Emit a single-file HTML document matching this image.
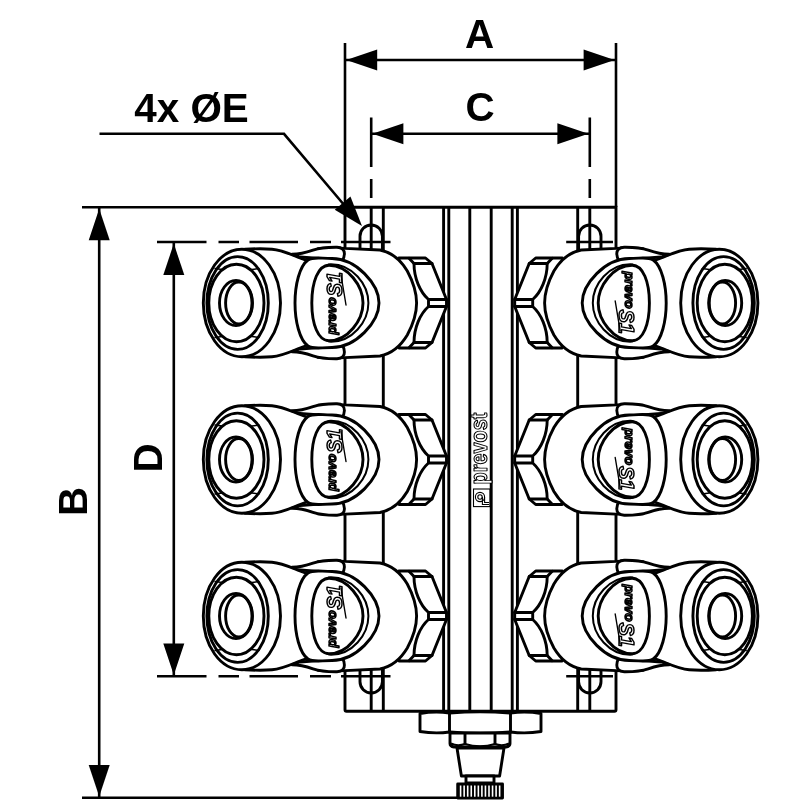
<!DOCTYPE html>
<html><head><meta charset="utf-8"><title>Drawing</title>
<style>
html,body{margin:0;padding:0;background:#fff;}
body{width:800px;height:800px;overflow:hidden;}
svg{display:block;filter:grayscale(1);}
text{font-family:"Liberation Sans",sans-serif;}
.lbl{font-weight:bold;font-size:40.4px;fill:#000;stroke:none;}
</style></head><body>
<svg width="800" height="800" viewBox="0 0 800 800">
<rect width="800" height="800" fill="#fff"/>

<g fill="none" stroke="#000" stroke-width="2.6" stroke-linecap="butt">
<path d="M345,43 V207 M616,43 V207 M82,207.3 H345 M82,797.7 H457"/>
</g>
<g fill="none" stroke="#000" stroke-width="2.9" stroke-linecap="butt">
<path d="M345,207.3 V709.700 Q345,711.2 346.500,711.2 H614.5 Q616,711.2 616,709.700 V207.3 Z"/>
<path d="M383.3,207.3 V711.2 M577.7,207.3 V711.2"/>
<path d="M443.6,207.3 V711.2 M448.8,207.3 V711.2 M469.8,207.3 V711.2 M491.2,207.3 V711.2 M512.2,207.3 V711.2 M517.4,207.3 V711.2"/>
<path d="M360,250 V236.2 A11.2,11.2 0 0 1 382.4,236.2 V250"/>
<path d="M371.2,207 V250"/>
<path d="M578.6,250 V236.2 A11.2,11.2 0 0 1 601,236.2 V250"/>
<path d="M589.8,207 V250"/>
<path d="M360,668 V681.8 A11.2,11.2 0 0 0 382.4,681.8 V668"/>
<path d="M371.2,668 V711"/>
<path d="M578.6,668 V681.8 A11.2,11.2 0 0 0 601,681.8 V668"/>
<path d="M589.8,668 V711"/>
</g>
<g fill="none" stroke="#000" stroke-width="2.6" stroke-linecap="butt">
<path d="M371.2,117.500 V167 M371.2,179 V198 M589.8,117.5 V167 M589.8,179 V198"/>
<path d="M157,242 H206.5 M218.5,242 H239 M249.5,242 H298 M310,242 H331 M341,242 H390.5"/>
<path d="M566.2,242 H613"/>
<path d="M157,676.2 H206.5 M218.5,676.2 H239 M249.5,676.2 H298 M310,676.2 H331 M341,676.2 H390.5"/>
<path d="M566.2,676.2 H613"/>
<path d="M345,60 H616 M371.2,133.800 H589.8 M99.2,207 V797.5 M173.8,242 V676"/>
<path d="M99.500,133.800 H284 L345,206"/>
</g>
<path d="M0,0 L-31,-10.5 L-31,10.5 Z" transform="translate(346.2,60) rotate(180)" fill="#000" stroke="none"/>
<path d="M0,0 L-31,-10.5 L-31,10.5 Z" transform="translate(614.6,60) rotate(0)" fill="#000" stroke="none"/>
<path d="M0,0 L-31,-10.5 L-31,10.5 Z" transform="translate(372.4,133.8) rotate(180)" fill="#000" stroke="none"/>
<path d="M0,0 L-31,-10.5 L-31,10.5 Z" transform="translate(588.4,133.8) rotate(0)" fill="#000" stroke="none"/>
<path d="M0,0 L-31.5,-10.5 L-31.5,10.5 Z" transform="translate(99.2,208.8) rotate(-90)" fill="#000" stroke="none"/>
<path d="M0,0 L-31.5,-10.5 L-31.5,10.5 Z" transform="translate(99.2,796.6) rotate(90)" fill="#000" stroke="none"/>
<path d="M0,0 L-31.5,-10.5 L-31.5,10.5 Z" transform="translate(173.8,243.6) rotate(-90)" fill="#000" stroke="none"/>
<path d="M0,0 L-31.5,-10.5 L-31.5,10.5 Z" transform="translate(173.8,675) rotate(90)" fill="#000" stroke="none"/>
<path d="M0,0 L-30,-10.3 L-30,10.3 Z" transform="translate(362,226) rotate(49.7)" fill="#000" stroke="none"/>
<text class="lbl" x="479.500" y="47.700" text-anchor="middle">A</text>
<text class="lbl" x="480" y="120.600" text-anchor="middle">C</text>
<text class="lbl" x="191.500" y="121.700" text-anchor="middle">4x ØE</text>
<text class="lbl" transform="translate(86.8,501.500) rotate(-90)" text-anchor="middle">B</text>
<text class="lbl" transform="translate(161.800,458) rotate(-90)" text-anchor="middle">D</text>
<g transform="translate(486.6,484.500) rotate(-90)"><text x="0" y="0" font-size="23" font-weight="bold" fill="#fff" stroke="#000" stroke-width="1.1" stroke-linejoin="round" textLength="72" lengthAdjust="spacingAndGlyphs">prevost</text></g>
<g fill="none" stroke="#000" stroke-width="1.1"><rect x="473.500" y="489" width="16.5" height="17.6"/><circle cx="480" cy="497" r="4.6"/><circle cx="480" cy="497" r="2.2"/><path d="M484.6,497 V502.500 H489 M482.400,497 V504.500 H489"/></g>
<g fill="#fff" stroke="#000" stroke-width="2.9" stroke-linejoin="round">
<path d="M420,713.500 Q435,711 449.500,713 Q480,710.500 510.500,713 Q526,711 541,713.500 V731.500 Q526,734 510.5,732 Q480,734.500 449.5,732 Q435,734 420,731.500 Z"/>
<path d="M449.5,712 V733 M510.5,712 V733"/>
<path d="M450,733 H510 V743.500 Q510,746.500 506,747 H454 Q450,746.500 450,743.500 Z"/>
<path d="M451,743.500 Q457.500,746.500 465,744 Q480,748.500 495,744 Q502.500,746.500 509,743.500" fill="none" stroke-width="2"/>
<path d="M465,733 V744 M495,733 V744"/>
<path d="M457,748 H504 L499.600,776 H461.400 Z"/>
<path d="M466,776 H494 V783 H466 Z"/>
<rect x="457.7" y="784" width="44.800" height="14" fill="#000"/>
</g>
<g stroke="#fff" stroke-width="1.6">
<path d="M460.60,785.500 V796.700"/>
<path d="M464.15,785.500 V796.700"/>
<path d="M467.70,785.500 V796.700"/>
<path d="M471.25,785.500 V796.700"/>
<path d="M474.80,785.500 V796.700"/>
<path d="M478.35,785.500 V796.700"/>
<path d="M481.90,785.500 V796.700"/>
<path d="M485.45,785.500 V796.700"/>
<path d="M489.00,785.500 V796.700"/>
<path d="M492.55,785.500 V796.700"/>
<path d="M496.10,785.500 V796.700"/>
<path d="M499.65,785.500 V796.700"/>
</g>
<g transform="translate(0,0.0)" stroke="#000" stroke-width="2.9" stroke-linejoin="round" stroke-linecap="round">
<path d="M300,256 C310,250 325,247.6 345,248.4 L380,250 C390,252 399.5,258 407.3,271 C413.2,282 416.6,294 416.6,303 C416.6,312 413.2,324 407.3,335 C399.5,348 390,354 380,356 L345,357.6 C325,358.4 310,356 300,350 Z" fill="#fff" stroke="none"/>
<path d="M399,258 L425.5,258 L432,263.5 L446.5,299.5 L446.5,306.5 L432,342.5 L425.5,348 L399,348 Z" fill="#fff"/>
<path d="M409,258.3 L414,263.5 L432,263.5 M409,347.7 L414,342.5 L432,342.5" fill="none"/>
<path d="M414,263.5 C414,278 420,292 428.5,299.5 L446.5,299.5 M414,342.5 C414,328 420,314 428.5,306.5 L446.5,306.5 M428.5,299.5 L428.5,306.5" fill="none"/>
<path d="M318,248.6 C330,247.6 340,248 345,248.4 L380,250 C390,252 399.5,258 407.3,271 C413.2,282 416.6,294 416.6,303 C416.6,312 413.2,324 407.3,335 C399.5,348 390,354 380,356 L345,357.6 C340,358 330,358.4 318,357.4" fill="#fff"/>
<path d="M245,249.3 C255,248.6 265,248.6 272,249.2 C282,250 290,254 300,258 L310,262 L310,344 L300,348 C290,352 282,356 272,356.8 C265,357.4 255,357.4 245,356.7 Z" fill="#fff" stroke="none"/>
<path d="M245,249.3 C255,248.6 265,248.6 272,249.2 C282,250 290,254 300,258 L308,261 M245,356.7 C255,357.4 265,357.4 272,356.8 C282,356 290,352 300,348 L308,345" fill="none"/>
<ellipse cx="241.9" cy="303" rx="38.6" ry="53.7" fill="#fff"/>
<ellipse cx="237.6" cy="303" rx="30.7" ry="46.4" fill="none"/>
<ellipse cx="236.4" cy="303" rx="27.6" ry="38.8" fill="none"/>
<ellipse cx="236" cy="303" rx="16.5" ry="22.6" fill="none"/>
<ellipse cx="238.8" cy="303" rx="13.2" ry="21" fill="none"/>
<path d="M215,268.5 L222,269.5 M252,269.5 L259,268.5 M215,337.5 L222,336.5 M252,336.5 L259,337.5" fill="none" stroke-width="1.4"/>
<path d="M292,254.3 C300,254.3 307,252.3 313,250.2 C320,247.8 328,247.2 337,247.3 C342,247.4 344.6,250.0 344.4,254.0 C344.2,257.0 343.5,259.0 342.5,260.3 L300,257.0 Z" fill="#fff"/>
<path d="M292,351.7 C300,351.7 307,353.7 313,355.8 C320,358.2 328,358.8 337,358.7 C342,358.6 344.6,356.0 344.4,352.0 C344.2,349.0 343.5,347.0 342.5,345.7 L300,349.0 Z" fill="#fff"/>
<path d="M379,303 C379,284 356,258.5 332,258.5 C320,258.5 313,256.5 308,260 C299.5,266 295,285 295,303 C295,321 299.5,340 308,346 C313,349.5 320,347.5 332,347.5 C356,347.5 379,322 379,303 Z" fill="#fff"/>
<path d="M326,265.6 C328,264.6 329,264.3 331,264.3 C352,264.3 368.4,284 368.4,303 C368.4,322 352,341.700 331,341.700 C329,341.700 328,341.400 326,340.400" fill="#fff" stroke-width="2"/>
<path d="M363,303 C363,286 348,265.2 329,265.2 C318,265.2 311.8,282 311.8,303 C311.8,324 318,340.8 329,340.8 C348,340.8 363,320 363,303 Z" fill="#fff"/>
<g transform="translate(336.3,334.5) rotate(-90)" font-family="Liberation Sans, sans-serif" font-weight="bold" font-style="italic" fill="#fff" stroke="#000" stroke-width="1.5" stroke-linejoin="round"><text x="0" y="0" font-size="13" textLength="37" lengthAdjust="spacingAndGlyphs">prevo</text><text x="38" y="5.5" font-size="22" textLength="24.500" lengthAdjust="spacingAndGlyphs">S1</text><path d="M29.5,9.7 L59.5,4.7" fill="none" stroke-width="1.4"/></g>
</g>
<g transform="translate(0,0.0) rotate(180 480.6 303)" stroke="#000" stroke-width="2.9" stroke-linejoin="round" stroke-linecap="round">
<path d="M300,256 C310,250 325,247.6 345,248.4 L380,250 C390,252 399.5,258 407.3,271 C413.2,282 416.6,294 416.6,303 C416.6,312 413.2,324 407.3,335 C399.5,348 390,354 380,356 L345,357.6 C325,358.4 310,356 300,350 Z" fill="#fff" stroke="none"/>
<path d="M399,258 L425.5,258 L432,263.5 L446.5,299.5 L446.5,306.5 L432,342.5 L425.5,348 L399,348 Z" fill="#fff"/>
<path d="M409,258.3 L414,263.5 L432,263.5 M409,347.7 L414,342.5 L432,342.5" fill="none"/>
<path d="M414,263.5 C414,278 420,292 428.5,299.5 L446.5,299.5 M414,342.5 C414,328 420,314 428.5,306.5 L446.5,306.5 M428.5,299.5 L428.5,306.5" fill="none"/>
<path d="M318,248.6 C330,247.6 340,248 345,248.4 L380,250 C390,252 399.5,258 407.3,271 C413.2,282 416.6,294 416.6,303 C416.6,312 413.2,324 407.3,335 C399.5,348 390,354 380,356 L345,357.6 C340,358 330,358.4 318,357.4" fill="#fff"/>
<path d="M245,249.3 C255,248.6 265,248.6 272,249.2 C282,250 290,254 300,258 L310,262 L310,344 L300,348 C290,352 282,356 272,356.8 C265,357.4 255,357.4 245,356.7 Z" fill="#fff" stroke="none"/>
<path d="M245,249.3 C255,248.6 265,248.6 272,249.2 C282,250 290,254 300,258 L308,261 M245,356.7 C255,357.4 265,357.4 272,356.8 C282,356 290,352 300,348 L308,345" fill="none"/>
<ellipse cx="241.9" cy="303" rx="38.6" ry="53.7" fill="#fff"/>
<ellipse cx="237.6" cy="303" rx="30.7" ry="46.4" fill="none"/>
<ellipse cx="236.4" cy="303" rx="27.6" ry="38.8" fill="none"/>
<ellipse cx="236" cy="303" rx="16.5" ry="22.6" fill="none"/>
<ellipse cx="238.8" cy="303" rx="13.2" ry="21" fill="none"/>
<path d="M215,268.5 L222,269.5 M252,269.5 L259,268.5 M215,337.5 L222,336.5 M252,336.5 L259,337.5" fill="none" stroke-width="1.4"/>
<path d="M292,254.3 C300,254.3 307,252.3 313,250.2 C320,247.8 328,247.2 337,247.3 C342,247.4 344.6,250.0 344.4,254.0 C344.2,257.0 343.5,259.0 342.5,260.3 L300,257.0 Z" fill="#fff"/>
<path d="M292,351.7 C300,351.7 307,353.7 313,355.8 C320,358.2 328,358.8 337,358.7 C342,358.6 344.6,356.0 344.4,352.0 C344.2,349.0 343.5,347.0 342.5,345.7 L300,349.0 Z" fill="#fff"/>
<path d="M379,303 C379,284 356,258.5 332,258.5 C320,258.5 313,256.5 308,260 C299.5,266 295,285 295,303 C295,321 299.5,340 308,346 C313,349.5 320,347.5 332,347.5 C356,347.5 379,322 379,303 Z" fill="#fff"/>
<path d="M326,265.6 C328,264.6 329,264.3 331,264.3 C352,264.3 368.4,284 368.4,303 C368.4,322 352,341.700 331,341.700 C329,341.700 328,341.400 326,340.400" fill="#fff" stroke-width="2"/>
<path d="M363,303 C363,286 348,265.2 329,265.2 C318,265.2 311.8,282 311.8,303 C311.8,324 318,340.8 329,340.8 C348,340.8 363,320 363,303 Z" fill="#fff"/>
<g transform="translate(336.3,334.5) rotate(-90)" font-family="Liberation Sans, sans-serif" font-weight="bold" font-style="italic" fill="#fff" stroke="#000" stroke-width="1.5" stroke-linejoin="round"><text x="0" y="0" font-size="13" textLength="37" lengthAdjust="spacingAndGlyphs">prevo</text><text x="38" y="5.5" font-size="22" textLength="24.500" lengthAdjust="spacingAndGlyphs">S1</text><path d="M29.5,9.7 L59.5,4.7" fill="none" stroke-width="1.4"/></g>
</g>
<g transform="translate(0,156.5)" stroke="#000" stroke-width="2.9" stroke-linejoin="round" stroke-linecap="round">
<path d="M300,256 C310,250 325,247.6 345,248.4 L380,250 C390,252 399.5,258 407.3,271 C413.2,282 416.6,294 416.6,303 C416.6,312 413.2,324 407.3,335 C399.5,348 390,354 380,356 L345,357.6 C325,358.4 310,356 300,350 Z" fill="#fff" stroke="none"/>
<path d="M399,258 L425.5,258 L432,263.5 L446.5,299.5 L446.5,306.5 L432,342.5 L425.5,348 L399,348 Z" fill="#fff"/>
<path d="M409,258.3 L414,263.5 L432,263.5 M409,347.7 L414,342.5 L432,342.5" fill="none"/>
<path d="M414,263.5 C414,278 420,292 428.5,299.5 L446.5,299.5 M414,342.5 C414,328 420,314 428.5,306.5 L446.5,306.5 M428.5,299.5 L428.5,306.5" fill="none"/>
<path d="M318,248.6 C330,247.6 340,248 345,248.4 L380,250 C390,252 399.5,258 407.3,271 C413.2,282 416.6,294 416.6,303 C416.6,312 413.2,324 407.3,335 C399.5,348 390,354 380,356 L345,357.6 C340,358 330,358.4 318,357.4" fill="#fff"/>
<path d="M245,249.3 C255,248.6 265,248.6 272,249.2 C282,250 290,254 300,258 L310,262 L310,344 L300,348 C290,352 282,356 272,356.8 C265,357.4 255,357.4 245,356.7 Z" fill="#fff" stroke="none"/>
<path d="M245,249.3 C255,248.6 265,248.6 272,249.2 C282,250 290,254 300,258 L308,261 M245,356.7 C255,357.4 265,357.4 272,356.8 C282,356 290,352 300,348 L308,345" fill="none"/>
<ellipse cx="241.9" cy="303" rx="38.6" ry="53.7" fill="#fff"/>
<ellipse cx="237.6" cy="303" rx="30.7" ry="46.4" fill="none"/>
<ellipse cx="236.4" cy="303" rx="27.6" ry="38.8" fill="none"/>
<ellipse cx="236" cy="303" rx="16.5" ry="22.6" fill="none"/>
<ellipse cx="238.8" cy="303" rx="13.2" ry="21" fill="none"/>
<path d="M215,268.5 L222,269.5 M252,269.5 L259,268.5 M215,337.5 L222,336.5 M252,336.5 L259,337.5" fill="none" stroke-width="1.4"/>
<path d="M292,254.3 C300,254.3 307,252.3 313,250.2 C320,247.8 328,247.2 337,247.3 C342,247.4 344.6,250.0 344.4,254.0 C344.2,257.0 343.5,259.0 342.5,260.3 L300,257.0 Z" fill="#fff"/>
<path d="M292,351.7 C300,351.7 307,353.7 313,355.8 C320,358.2 328,358.8 337,358.7 C342,358.6 344.6,356.0 344.4,352.0 C344.2,349.0 343.5,347.0 342.5,345.7 L300,349.0 Z" fill="#fff"/>
<path d="M379,303 C379,284 356,258.5 332,258.5 C320,258.5 313,256.5 308,260 C299.5,266 295,285 295,303 C295,321 299.5,340 308,346 C313,349.5 320,347.5 332,347.5 C356,347.5 379,322 379,303 Z" fill="#fff"/>
<path d="M326,265.6 C328,264.6 329,264.3 331,264.3 C352,264.3 368.4,284 368.4,303 C368.4,322 352,341.700 331,341.700 C329,341.700 328,341.400 326,340.400" fill="#fff" stroke-width="2"/>
<path d="M363,303 C363,286 348,265.2 329,265.2 C318,265.2 311.8,282 311.8,303 C311.8,324 318,340.8 329,340.8 C348,340.8 363,320 363,303 Z" fill="#fff"/>
<g transform="translate(336.3,334.5) rotate(-90)" font-family="Liberation Sans, sans-serif" font-weight="bold" font-style="italic" fill="#fff" stroke="#000" stroke-width="1.5" stroke-linejoin="round"><text x="0" y="0" font-size="13" textLength="37" lengthAdjust="spacingAndGlyphs">prevo</text><text x="38" y="5.5" font-size="22" textLength="24.500" lengthAdjust="spacingAndGlyphs">S1</text><path d="M29.5,9.7 L59.5,4.7" fill="none" stroke-width="1.4"/></g>
</g>
<g transform="translate(0,156.5) rotate(180 480.6 303)" stroke="#000" stroke-width="2.9" stroke-linejoin="round" stroke-linecap="round">
<path d="M300,256 C310,250 325,247.6 345,248.4 L380,250 C390,252 399.5,258 407.3,271 C413.2,282 416.6,294 416.6,303 C416.6,312 413.2,324 407.3,335 C399.5,348 390,354 380,356 L345,357.6 C325,358.4 310,356 300,350 Z" fill="#fff" stroke="none"/>
<path d="M399,258 L425.5,258 L432,263.5 L446.5,299.5 L446.5,306.5 L432,342.5 L425.5,348 L399,348 Z" fill="#fff"/>
<path d="M409,258.3 L414,263.5 L432,263.5 M409,347.7 L414,342.5 L432,342.5" fill="none"/>
<path d="M414,263.5 C414,278 420,292 428.5,299.5 L446.5,299.5 M414,342.5 C414,328 420,314 428.5,306.5 L446.5,306.5 M428.5,299.5 L428.5,306.5" fill="none"/>
<path d="M318,248.6 C330,247.6 340,248 345,248.4 L380,250 C390,252 399.5,258 407.3,271 C413.2,282 416.6,294 416.6,303 C416.6,312 413.2,324 407.3,335 C399.5,348 390,354 380,356 L345,357.6 C340,358 330,358.4 318,357.4" fill="#fff"/>
<path d="M245,249.3 C255,248.6 265,248.6 272,249.2 C282,250 290,254 300,258 L310,262 L310,344 L300,348 C290,352 282,356 272,356.8 C265,357.4 255,357.4 245,356.7 Z" fill="#fff" stroke="none"/>
<path d="M245,249.3 C255,248.6 265,248.6 272,249.2 C282,250 290,254 300,258 L308,261 M245,356.7 C255,357.4 265,357.4 272,356.8 C282,356 290,352 300,348 L308,345" fill="none"/>
<ellipse cx="241.9" cy="303" rx="38.6" ry="53.7" fill="#fff"/>
<ellipse cx="237.6" cy="303" rx="30.7" ry="46.4" fill="none"/>
<ellipse cx="236.4" cy="303" rx="27.6" ry="38.8" fill="none"/>
<ellipse cx="236" cy="303" rx="16.5" ry="22.6" fill="none"/>
<ellipse cx="238.8" cy="303" rx="13.2" ry="21" fill="none"/>
<path d="M215,268.5 L222,269.5 M252,269.5 L259,268.5 M215,337.5 L222,336.5 M252,336.5 L259,337.5" fill="none" stroke-width="1.4"/>
<path d="M292,254.3 C300,254.3 307,252.3 313,250.2 C320,247.8 328,247.2 337,247.3 C342,247.4 344.6,250.0 344.4,254.0 C344.2,257.0 343.5,259.0 342.5,260.3 L300,257.0 Z" fill="#fff"/>
<path d="M292,351.7 C300,351.7 307,353.7 313,355.8 C320,358.2 328,358.8 337,358.7 C342,358.6 344.6,356.0 344.4,352.0 C344.2,349.0 343.5,347.0 342.5,345.7 L300,349.0 Z" fill="#fff"/>
<path d="M379,303 C379,284 356,258.5 332,258.5 C320,258.5 313,256.5 308,260 C299.5,266 295,285 295,303 C295,321 299.5,340 308,346 C313,349.5 320,347.5 332,347.5 C356,347.5 379,322 379,303 Z" fill="#fff"/>
<path d="M326,265.6 C328,264.6 329,264.3 331,264.3 C352,264.3 368.4,284 368.4,303 C368.4,322 352,341.700 331,341.700 C329,341.700 328,341.400 326,340.400" fill="#fff" stroke-width="2"/>
<path d="M363,303 C363,286 348,265.2 329,265.2 C318,265.2 311.8,282 311.8,303 C311.8,324 318,340.8 329,340.8 C348,340.8 363,320 363,303 Z" fill="#fff"/>
<g transform="translate(336.3,334.5) rotate(-90)" font-family="Liberation Sans, sans-serif" font-weight="bold" font-style="italic" fill="#fff" stroke="#000" stroke-width="1.5" stroke-linejoin="round"><text x="0" y="0" font-size="13" textLength="37" lengthAdjust="spacingAndGlyphs">prevo</text><text x="38" y="5.5" font-size="22" textLength="24.500" lengthAdjust="spacingAndGlyphs">S1</text><path d="M29.5,9.7 L59.5,4.7" fill="none" stroke-width="1.4"/></g>
</g>
<g transform="translate(0,313.0)" stroke="#000" stroke-width="2.9" stroke-linejoin="round" stroke-linecap="round">
<path d="M300,256 C310,250 325,247.6 345,248.4 L380,250 C390,252 399.5,258 407.3,271 C413.2,282 416.6,294 416.6,303 C416.6,312 413.2,324 407.3,335 C399.5,348 390,354 380,356 L345,357.6 C325,358.4 310,356 300,350 Z" fill="#fff" stroke="none"/>
<path d="M399,258 L425.5,258 L432,263.5 L446.5,299.5 L446.5,306.5 L432,342.5 L425.5,348 L399,348 Z" fill="#fff"/>
<path d="M409,258.3 L414,263.5 L432,263.5 M409,347.7 L414,342.5 L432,342.5" fill="none"/>
<path d="M414,263.5 C414,278 420,292 428.5,299.5 L446.5,299.5 M414,342.5 C414,328 420,314 428.5,306.5 L446.5,306.5 M428.5,299.5 L428.5,306.5" fill="none"/>
<path d="M318,248.6 C330,247.6 340,248 345,248.4 L380,250 C390,252 399.5,258 407.3,271 C413.2,282 416.6,294 416.6,303 C416.6,312 413.2,324 407.3,335 C399.5,348 390,354 380,356 L345,357.6 C340,358 330,358.4 318,357.4" fill="#fff"/>
<path d="M245,249.3 C255,248.6 265,248.6 272,249.2 C282,250 290,254 300,258 L310,262 L310,344 L300,348 C290,352 282,356 272,356.8 C265,357.4 255,357.4 245,356.7 Z" fill="#fff" stroke="none"/>
<path d="M245,249.3 C255,248.6 265,248.6 272,249.2 C282,250 290,254 300,258 L308,261 M245,356.7 C255,357.4 265,357.4 272,356.8 C282,356 290,352 300,348 L308,345" fill="none"/>
<ellipse cx="241.9" cy="303" rx="38.6" ry="53.7" fill="#fff"/>
<ellipse cx="237.6" cy="303" rx="30.7" ry="46.4" fill="none"/>
<ellipse cx="236.4" cy="303" rx="27.6" ry="38.8" fill="none"/>
<ellipse cx="236" cy="303" rx="16.5" ry="22.6" fill="none"/>
<ellipse cx="238.8" cy="303" rx="13.2" ry="21" fill="none"/>
<path d="M215,268.5 L222,269.5 M252,269.5 L259,268.5 M215,337.5 L222,336.5 M252,336.5 L259,337.5" fill="none" stroke-width="1.4"/>
<path d="M292,254.3 C300,254.3 307,252.3 313,250.2 C320,247.8 328,247.2 337,247.3 C342,247.4 344.6,250.0 344.4,254.0 C344.2,257.0 343.5,259.0 342.5,260.3 L300,257.0 Z" fill="#fff"/>
<path d="M292,351.7 C300,351.7 307,353.7 313,355.8 C320,358.2 328,358.8 337,358.7 C342,358.6 344.6,356.0 344.4,352.0 C344.2,349.0 343.5,347.0 342.5,345.7 L300,349.0 Z" fill="#fff"/>
<path d="M379,303 C379,284 356,258.5 332,258.5 C320,258.5 313,256.5 308,260 C299.5,266 295,285 295,303 C295,321 299.5,340 308,346 C313,349.5 320,347.5 332,347.5 C356,347.5 379,322 379,303 Z" fill="#fff"/>
<path d="M326,265.6 C328,264.6 329,264.3 331,264.3 C352,264.3 368.4,284 368.4,303 C368.4,322 352,341.700 331,341.700 C329,341.700 328,341.400 326,340.400" fill="#fff" stroke-width="2"/>
<path d="M363,303 C363,286 348,265.2 329,265.2 C318,265.2 311.8,282 311.8,303 C311.8,324 318,340.8 329,340.8 C348,340.8 363,320 363,303 Z" fill="#fff"/>
<g transform="translate(336.3,334.5) rotate(-90)" font-family="Liberation Sans, sans-serif" font-weight="bold" font-style="italic" fill="#fff" stroke="#000" stroke-width="1.5" stroke-linejoin="round"><text x="0" y="0" font-size="13" textLength="37" lengthAdjust="spacingAndGlyphs">prevo</text><text x="38" y="5.5" font-size="22" textLength="24.500" lengthAdjust="spacingAndGlyphs">S1</text><path d="M29.5,9.7 L59.5,4.7" fill="none" stroke-width="1.4"/></g>
</g>
<g transform="translate(0,313.0) rotate(180 480.6 303)" stroke="#000" stroke-width="2.9" stroke-linejoin="round" stroke-linecap="round">
<path d="M300,256 C310,250 325,247.6 345,248.4 L380,250 C390,252 399.5,258 407.3,271 C413.2,282 416.6,294 416.6,303 C416.6,312 413.2,324 407.3,335 C399.5,348 390,354 380,356 L345,357.6 C325,358.4 310,356 300,350 Z" fill="#fff" stroke="none"/>
<path d="M399,258 L425.5,258 L432,263.5 L446.5,299.5 L446.5,306.5 L432,342.5 L425.5,348 L399,348 Z" fill="#fff"/>
<path d="M409,258.3 L414,263.5 L432,263.5 M409,347.7 L414,342.5 L432,342.5" fill="none"/>
<path d="M414,263.5 C414,278 420,292 428.5,299.5 L446.5,299.5 M414,342.5 C414,328 420,314 428.5,306.5 L446.5,306.5 M428.5,299.5 L428.5,306.5" fill="none"/>
<path d="M318,248.6 C330,247.6 340,248 345,248.4 L380,250 C390,252 399.5,258 407.3,271 C413.2,282 416.6,294 416.6,303 C416.6,312 413.2,324 407.3,335 C399.5,348 390,354 380,356 L345,357.6 C340,358 330,358.4 318,357.4" fill="#fff"/>
<path d="M245,249.3 C255,248.6 265,248.6 272,249.2 C282,250 290,254 300,258 L310,262 L310,344 L300,348 C290,352 282,356 272,356.8 C265,357.4 255,357.4 245,356.7 Z" fill="#fff" stroke="none"/>
<path d="M245,249.3 C255,248.6 265,248.6 272,249.2 C282,250 290,254 300,258 L308,261 M245,356.7 C255,357.4 265,357.4 272,356.8 C282,356 290,352 300,348 L308,345" fill="none"/>
<ellipse cx="241.9" cy="303" rx="38.6" ry="53.7" fill="#fff"/>
<ellipse cx="237.6" cy="303" rx="30.7" ry="46.4" fill="none"/>
<ellipse cx="236.4" cy="303" rx="27.6" ry="38.8" fill="none"/>
<ellipse cx="236" cy="303" rx="16.5" ry="22.6" fill="none"/>
<ellipse cx="238.8" cy="303" rx="13.2" ry="21" fill="none"/>
<path d="M215,268.5 L222,269.5 M252,269.5 L259,268.5 M215,337.5 L222,336.5 M252,336.5 L259,337.5" fill="none" stroke-width="1.4"/>
<path d="M292,254.3 C300,254.3 307,252.3 313,250.2 C320,247.8 328,247.2 337,247.3 C342,247.4 344.6,250.0 344.4,254.0 C344.2,257.0 343.5,259.0 342.5,260.3 L300,257.0 Z" fill="#fff"/>
<path d="M292,351.7 C300,351.7 307,353.7 313,355.8 C320,358.2 328,358.8 337,358.7 C342,358.6 344.6,356.0 344.4,352.0 C344.2,349.0 343.5,347.0 342.5,345.7 L300,349.0 Z" fill="#fff"/>
<path d="M379,303 C379,284 356,258.5 332,258.5 C320,258.5 313,256.5 308,260 C299.5,266 295,285 295,303 C295,321 299.5,340 308,346 C313,349.5 320,347.5 332,347.5 C356,347.5 379,322 379,303 Z" fill="#fff"/>
<path d="M326,265.6 C328,264.6 329,264.3 331,264.3 C352,264.3 368.4,284 368.4,303 C368.4,322 352,341.700 331,341.700 C329,341.700 328,341.400 326,340.400" fill="#fff" stroke-width="2"/>
<path d="M363,303 C363,286 348,265.2 329,265.2 C318,265.2 311.8,282 311.8,303 C311.8,324 318,340.8 329,340.8 C348,340.8 363,320 363,303 Z" fill="#fff"/>
<g transform="translate(336.3,334.5) rotate(-90)" font-family="Liberation Sans, sans-serif" font-weight="bold" font-style="italic" fill="#fff" stroke="#000" stroke-width="1.5" stroke-linejoin="round"><text x="0" y="0" font-size="13" textLength="37" lengthAdjust="spacingAndGlyphs">prevo</text><text x="38" y="5.5" font-size="22" textLength="24.500" lengthAdjust="spacingAndGlyphs">S1</text><path d="M29.5,9.7 L59.5,4.7" fill="none" stroke-width="1.4"/></g>
</g>
</svg>
</body></html>
